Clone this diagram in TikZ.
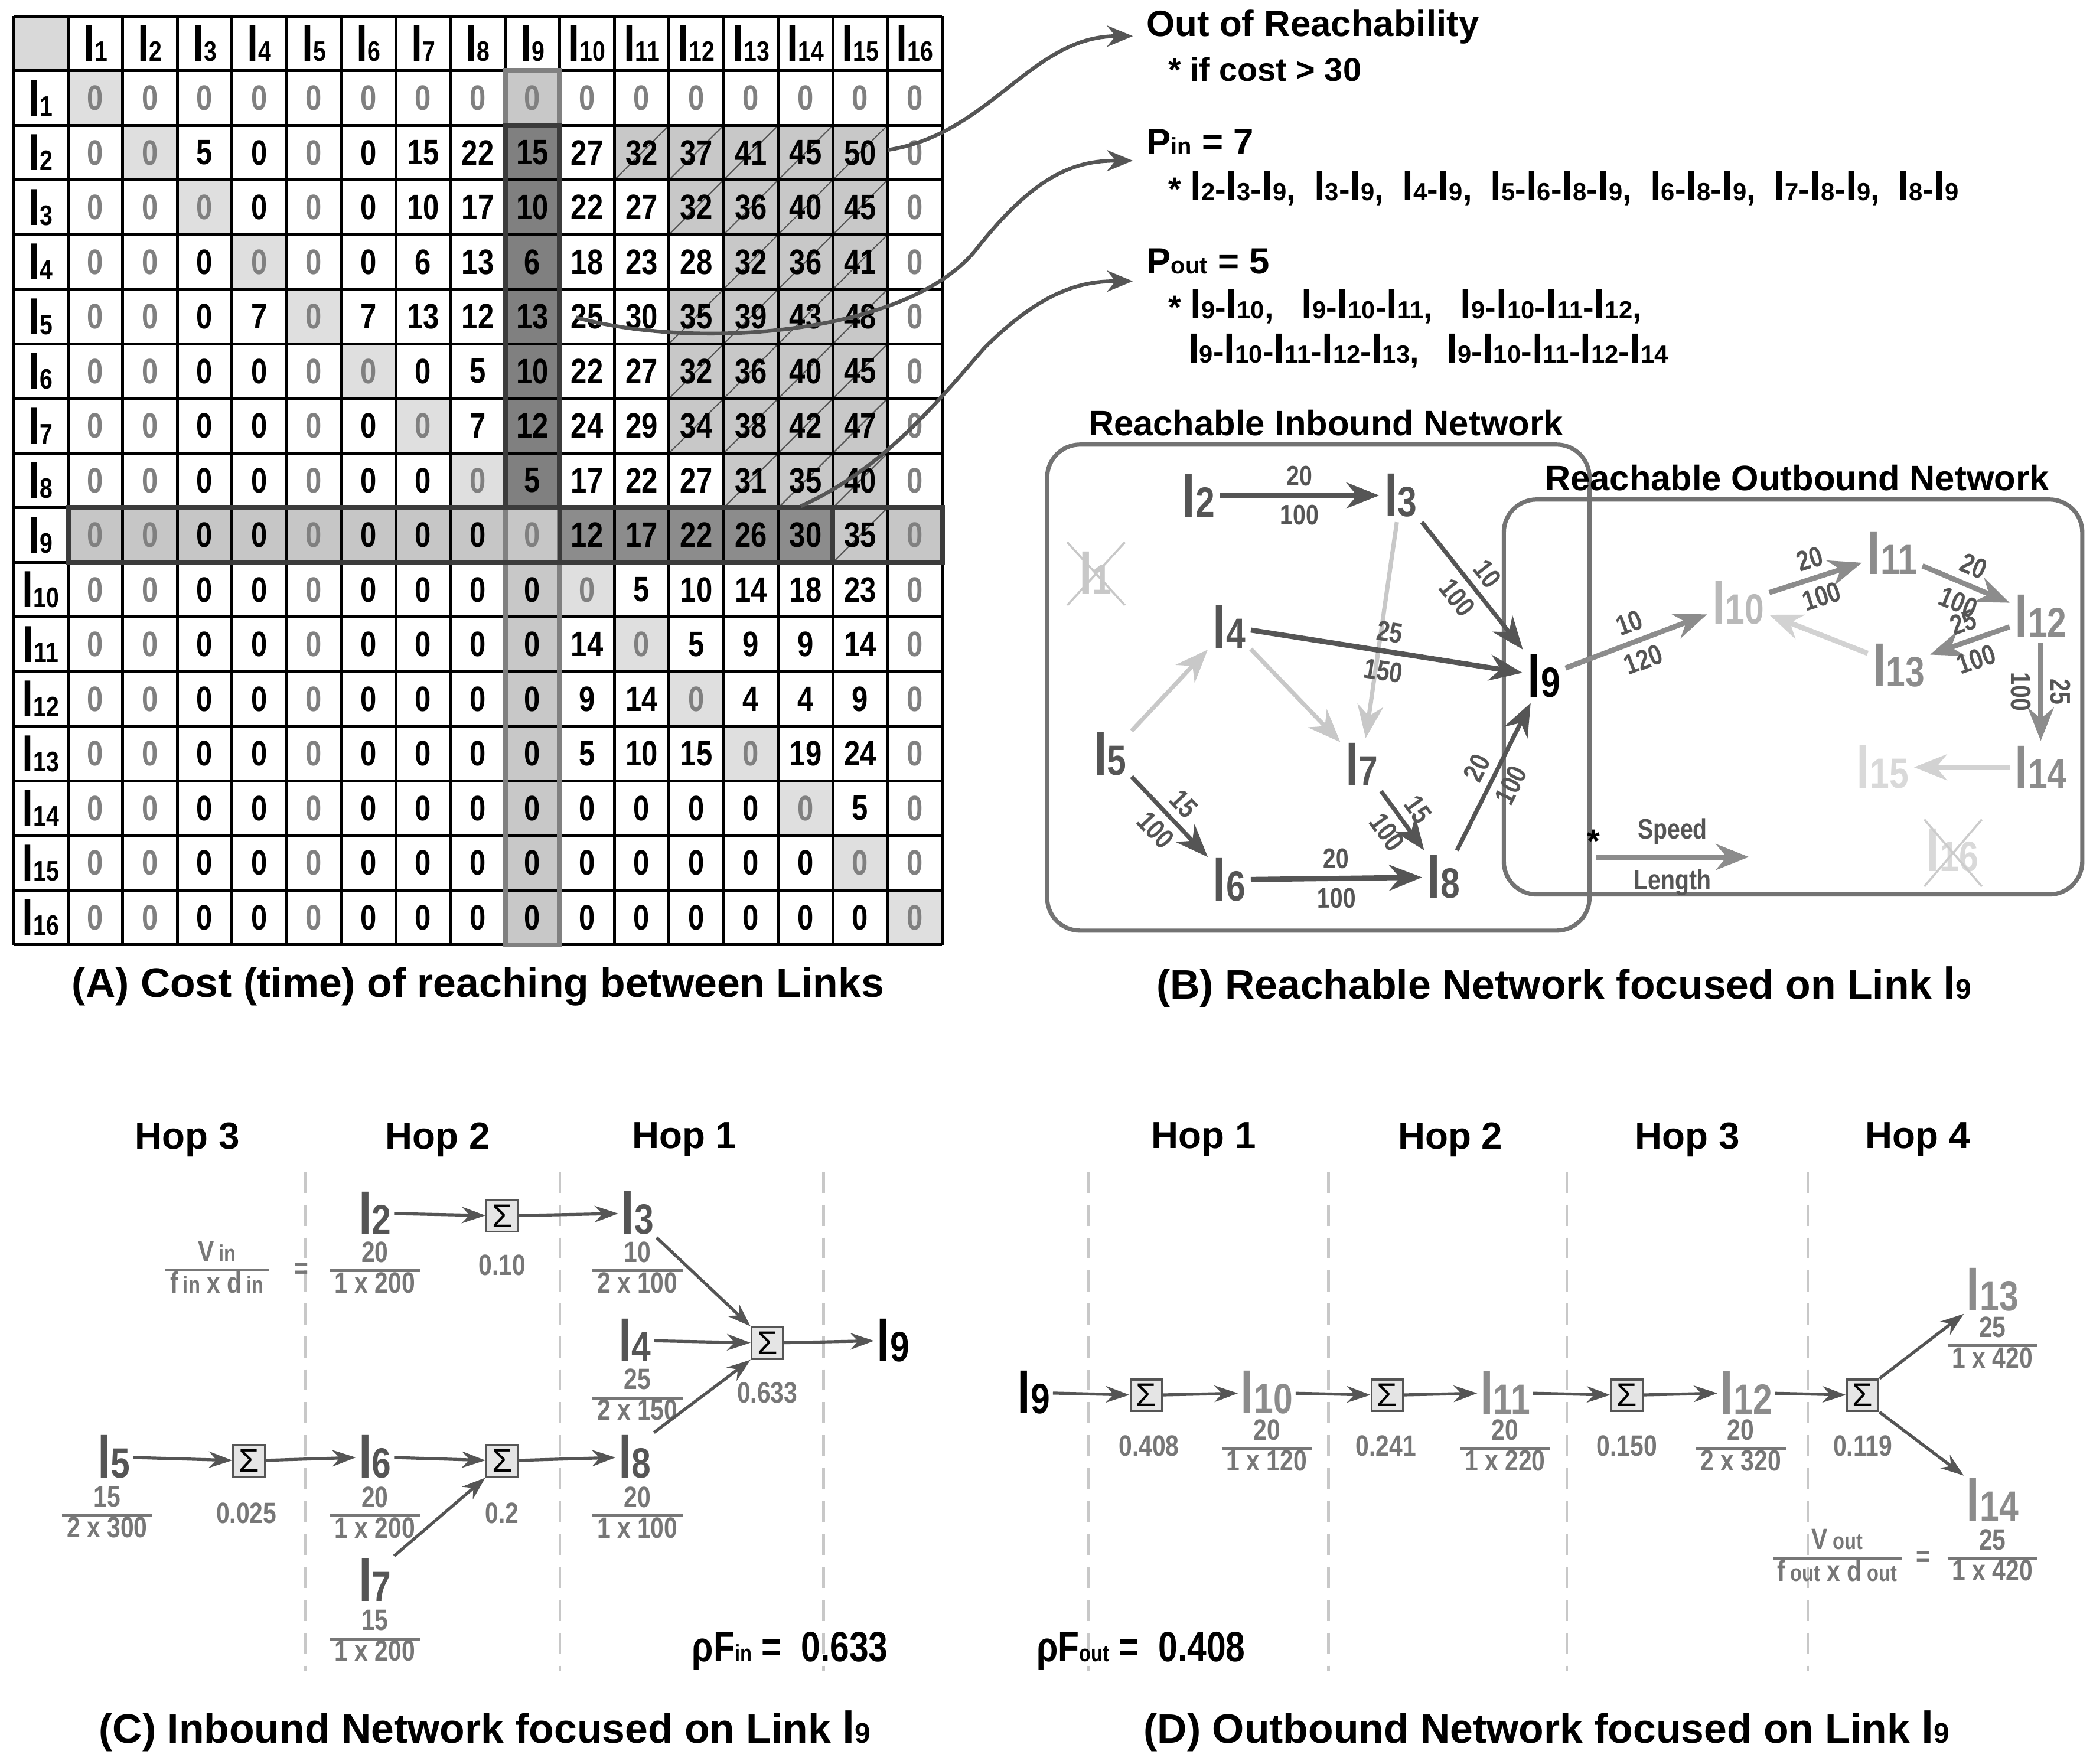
\documentclass[tikz,border=0pt]{standalone}
\usepackage{fontspec}
\setmainfont{Liberation Sans}
\newfontfamily\nar{Liberation Sans}[FakeStretch=0.82]
\usetikzlibrary{arrows.meta}
\definecolor{dk}{HTML}{555555}
\definecolor{md}{HTML}{8C8C8C}
\definecolor{lt}{HTML}{C8C8C8}
\definecolor{gy}{HTML}{808080}
\definecolor{fr}{HTML}{777777}
\newcommand\lnk[3]{{\fontsize{#2}{#2}\selectfont l}{\fontsize{#3}{#3}\selectfont #1}}
\newcommand\sm[1]{{\fontsize{10}{10}\selectfont #1}}
\newcommand\frc[2]{{\renewcommand\arraystretch{0.8}\setlength\arrayrulewidth{1.3pt}\begin{tabular}{@{\,}c@{\,}}#1\\\hline #2\end{tabular}}}
\tikzset{
 mtx/.style={font=\nar\bfseries\fontsize{15}{15}\selectfont,inner sep=0pt},
 hdr/.style={font=\nar\bfseries,inner sep=0pt},
 big/.style={font=\nar\bfseries,inner sep=2pt},
 ttl/.style={font=\bfseries\fontsize{17.5}{17.5}\selectfont},
 txt/.style={font=\bfseries\fontsize{14}{14}\selectfont,anchor=west,inner sep=0pt},
 ed/.style={line width=2.2pt,-{Stealth[length=14pt,width=11pt]}},
 lb/.style={font=\nar\bfseries\fontsize{12}{12}\selectfont,text=dk,sloped,inner sep=3pt},
 box/.style={draw=gy!90!black,line width=1.8pt,rounded corners=14pt},
 cur/.style={draw=dk,line width=1.6pt,-{Stealth[length=11pt,width=9pt]}},
 ar/.style={draw=dk,line width=1.3pt,-{Stealth[length=10pt,width=7pt]}},
 sg/.style={draw=dk,fill=gray!20,line width=0.9pt,minimum size=0.47cm,inner sep=0pt,font=\fontsize{14}{14}\selectfont},
 fn/.style={font=\nar\bfseries\fontsize{12.5}{12.5}\selectfont,text=fr,inner sep=0pt},
 hop/.style={font=\bfseries\fontsize{16}{16}\selectfont},
 dsh/.style={draw=lt,line width=1.1pt,dash pattern=on 9pt off 5pt},
 lst/.style={txt,font=\bfseries\fontsize{14}{14}\selectfont},
}
\newcommand\li[1]{\lnk{#1}{17}{10.5}}
\begin{document}
\begin{tikzpicture}[x=0.02cm,y=-0.02cm]
\useasboundingbox (0,0) rectangle (1563,1317);
\fill[white] (0,0) rectangle (1563,1317);
% ---------- matrix fills
\def\cs{40.8}
\fill[gray!30] (10,12) rectangle ++(\cs,\cs);
\foreach \k in {1,...,16}{\fill[gray!25] ({10+\k*\cs},{12+\k*\cs}) rectangle ++(\cs,\cs);}
\foreach \r in {1,10,11,12,13,14,15,16}{\fill[lt] ({10+9*\cs},{12+\r*\cs}) rectangle ++(\cs,\cs);}
\foreach \r in {2,...,8}{\fill[gy] ({10+9*\cs},{12+\r*\cs}) rectangle ++(\cs,\cs);}
\foreach \c in {1,...,9,16}{\fill[gray!45] ({10+\c*\cs},{12+9*\cs}) rectangle ++(\cs,\cs);}
\foreach \c in {10,...,14}{\fill[gray!100!black!90] ({10+\c*\cs},{12+9*\cs}) rectangle ++(\cs,\cs);}
\foreach \r/\c in {2/11,2/12,2/13,2/14,2/15,3/12,3/13,3/14,3/15,4/13,4/14,4/15,5/12,5/13,5/14,5/15,6/12,6/13,6/14,6/15,7/12,7/13,7/14,7/15,8/13,8/14,8/15,9/15}{
  \fill[lt] ({10+\c*\cs},{12+\r*\cs}) rectangle ++(\cs,\cs);
  \draw[dk,line width=0.5pt] ({10+\c*\cs},{12+(\r+1)*\cs}) -- ++(\cs,-\cs);}
% grid
\foreach \k in {0,...,17}{
  \draw[line width=1.3pt] ({10+\k*\cs},12) -- ({10+\k*\cs},{12+17*\cs});
  \draw[line width=1.3pt] (10,{12+\k*\cs}) -- ({10+17*\cs},{12+\k*\cs});}
\draw[gy,line width=2.2pt] ({10+9*\cs},{12+\cs}) rectangle ({10+10*\cs},{12+17*\cs});
\draw[dk!70!black,line width=2.2pt] ({10+9*\cs},{12+2*\cs}) rectangle ({10+10*\cs},{12+9*\cs});
\draw[dk!70!black,line width=2.2pt] ({10+\cs},{12+9*\cs}) rectangle ({10+17*\cs},{12+10*\cs});
\draw[dk!70!black,line width=2pt] ({10+10*\cs},{12+9*\cs}) rectangle ({10+15*\cs},{12+10*\cs});
% headers
\foreach \k in {1,...,16}{
  \node[hdr] (hc\k) at ({10+(\k+0.5)*\cs},{12+0.5*\cs}) {\lnk{\k}{21}{12}};
  \node[hdr] (hr\k) at ({10+0.5*\cs},{12+(\k+0.5)*\cs}) {\lnk{\k}{21}{12}};}
% values
\foreach \r/\vals in {
 1/{0,0,0,0,0,0,0,0,0,0,0,0,0,0,0,0},
 2/{0,0,5,0,0,0,15,22,15,27,32,37,41,45,50,0},
 3/{0,0,0,0,0,0,10,17,10,22,27,32,36,40,45,0},
 4/{0,0,0,0,0,0,6,13,6,18,23,28,32,36,41,0},
 5/{0,0,0,7,0,7,13,12,13,25,30,35,39,43,48,0},
 6/{0,0,0,0,0,0,0,5,10,22,27,32,36,40,45,0},
 7/{0,0,0,0,0,0,0,7,12,24,29,34,38,42,47,0},
 8/{0,0,0,0,0,0,0,0,5,17,22,27,31,35,40,0},
 9/{0,0,0,0,0,0,0,0,0,12,17,22,26,30,35,0},
 10/{0,0,0,0,0,0,0,0,0,0,5,10,14,18,23,0},
 11/{0,0,0,0,0,0,0,0,0,14,0,5,9,9,14,0},
 12/{0,0,0,0,0,0,0,0,0,9,14,0,4,4,9,0},
 13/{0,0,0,0,0,0,0,0,0,5,10,15,0,19,24,0},
 14/{0,0,0,0,0,0,0,0,0,0,0,0,0,0,5,0},
 15/{0,0,0,0,0,0,0,0,0,0,0,0,0,0,0,0},
 16/{0,0,0,0,0,0,0,0,0,0,0,0,0,0,0,0}}{
 \foreach \v [count=\c] in \vals {
   \pgfmathtruncatemacro\g{(\r==1)||(\c==1)||(\c==2)||(\c==5)||(\c==16)||(\r==\c)}
   \ifnum\g=1 \def\tc{gy}\else\def\tc{black}\fi
   \node[mtx,text=\tc] (m-\r-\c) at ({10+(\c+0.5)*\cs},{12+(\r+0.5)*\cs}) {\v};
 }}
% curved arrows
\coordinate (a1s) at (663,112); \coordinate (a1e) at (846,27);
\coordinate (a2s) at (430,237); \coordinate (a2e) at (846,120);
\coordinate (a3s) at (598,378); \coordinate (a3e) at (846,210);
\draw[cur] (a1s) .. controls (740,100) and (770,27) .. (a1e);
\draw[cur] (a2s) .. controls (520,262) and (680,250) .. (730,185) .. controls (775,128) and (805,120) .. (a2e);
\draw[cur] (a3s) .. controls (660,350) and (700,300) .. (735,260) .. controls (780,215) and (810,210) .. (a3e);
% right texts
\node[txt] (t1) at (856,20) {\fontsize{15.5}{15.5}\selectfont Out of Reachability};
\node[txt] (t2) at (872,52) {* if cost > 30};
\node[txt] (t3) at (856,106) {\fontsize{15.5}{15.5}\selectfont P\sm{in} = 7};
\node[lst] (t4) at (872,141) {*\ \li{2}-\li{3}-\li{9},\ \ \li{3}-\li{9},\ \ \li{4}-\li{9},\ \ \li{5}-\li{6}-\li{8}-\li{9},\ \ \li{6}-\li{8}-\li{9},\ \ \li{7}-\li{8}-\li{9},\ \ \li{8}-\li{9}};
\node[txt] (t5) at (856,195) {\fontsize{15.5}{15.5}\selectfont P\sm{out} = 5};
\node[lst] (t6) at (872,229) {*\ \li{9}-\li{10},\ \ \ \li{9}-\li{10}-\li{11},\ \ \ \li{9}-\li{10}-\li{11}-\li{12},};
\node[lst] (t7) at (887,262) {\li{9}-\li{10}-\li{11}-\li{12}-\li{13},\ \ \ \li{9}-\li{10}-\li{11}-\li{12}-\li{14}};
% titles
\node[ttl] (TA) at (357,737) {(A) Cost (time) of reaching between Links};
\node[ttl] (TB) at (1168,737) {(B) Reachable Network focused on Link \lnk{9}{19}{12}};
\node[ttl] (TC) at (362,1293) {(C) Inbound Network focused on Link \lnk{9}{19}{12}};
\node[ttl] (TD) at (1155,1293) {(D) Outbound Network focused on Link \lnk{9}{19}{12}};
% ---------- panel B
\draw[box] (782,332) rectangle (1187,695);
\draw[box] (1123,373) rectangle (1555,668);
\node[ttl,font=\bfseries\fontsize{15}{15}\selectfont] (TBi) at (990,316) {Reachable Inbound Network};
\node[ttl,font=\bfseries\fontsize{15}{15}\selectfont] (TBo) at (1342,357) {Reachable Outbound Network};
\tikzset{bn/.style={big,font=\nar\bfseries}}
\node[bn,text=dk] (b2) at (895,370) {\lnk{2}{25}{18}};
\node[bn,text=dk] (b3) at (1046,370) {\lnk{3}{25}{18}};
\node[bn,text=lt] (b1) at (818,428) {\lnk{1}{25}{18}};
\draw[lt,line width=0.9pt] (797,405) -- (840,452) (797,452) -- (840,405);
\node[bn,text=dk] (b4) at (918,468) {\lnk{4}{25}{18}};
\node[bn,text=black] (b9) at (1153,505) {\lnk{9}{25}{18}};
\node[bn,text=dk] (b5) at (829,563) {\lnk{5}{25}{18}};
\node[bn,text=dk] (b7) at (1017,571) {\lnk{7}{25}{18}};
\node[bn,text=dk] (b6) at (918,657) {\lnk{6}{25}{18}};
\node[bn,text=dk] (b8) at (1078,655) {\lnk{8}{25}{18}};
\node[bn,text=gray!55] (b10) at (1298,450) {\lnk{10}{25}{18}};
\node[bn,text=md] (b11) at (1413,413) {\lnk{11}{25}{18}};
\node[bn,text=md] (b12) at (1524,460) {\lnk{12}{25}{18}};
\node[bn,text=md] (b13) at (1418,497) {\lnk{13}{25}{18}};
\node[bn,text=md] (b14) at (1524,573) {\lnk{14}{25}{18}};
\node[bn,text=gray!30] (b15) at (1406,573) {\lnk{15}{25}{18}};
\node[bn,text=gray!30] (b16) at (1458,635) {\lnk{16}{25}{18}};
\draw[gray!40,line width=0.9pt] (1437,612) -- (1480,662) (1437,662) -- (1480,612);
\draw[ed,lt,line width=1.8pt] (b3) -- (b7);
\draw[ed,lt,line width=1.8pt] (b4) -- (b7);
\draw[ed,lt,line width=1.8pt] (b5) -- (b4);
\draw[ed,dk] (b2) -- node[lb,above]{20} node[lb,below]{100} (b3);
\draw[ed,dk,line width=1.8pt] (b3) -- node[lb,above]{10} node[lb,below]{100} (b9);
\draw[ed,dk] (b4) -- node[lb,above]{25} node[lb,below]{150} (b9);
\draw[ed,dk,line width=1.8pt] (b5) -- node[lb,above]{15} node[lb,below]{100} (b6);
\draw[ed,dk,line width=1.8pt] (b7) -- node[lb,above]{15} node[lb,below]{100} (b8);
\draw[ed,dk] (b6) -- node[lb,above]{20} node[lb,below]{100} (b8);
\draw[ed,dk,line width=1.8pt] (b8) -- node[lb,above]{20} node[lb,below]{100} (b9);
\draw[ed,md] (b9) -- node[lb,above]{10} node[lb,below]{120} (b10);
\draw[ed,md] (b10) -- node[lb,above]{20} node[lb,below]{100} (b11);
\draw[ed,md] (b11) -- node[lb,above]{20} node[lb,below]{100} (b12);
\draw[ed,md] (b12) -- node[lb,above]{25} node[lb,below]{100} (b13);
\draw[ed,md] (b12) -- node[lb,above]{25} node[lb,below]{100} (b14);
\draw[ed,gray!35] (b13) -- (b10);
\draw[ed,gray!35] (b14) -- (b15);
\coordinate (lg1) at (1192,640); \coordinate (lg2) at (1306,640);
\draw[ed,md] (lg1) -- node[lb,above=1pt]{Speed} node[lb,below=1pt]{Length} (lg2);
\node[font=\bfseries\fontsize{14}{14}\selectfont] (st) at (1190,628) {*};
% ---------- panel C
\foreach \x [count=\i] in {228,418,615}{\draw[dsh] (\x,875) coordinate (cv\i) -- (\x,1248);}
\node[hop] (h3) at (140,851) {Hop 3};
\node[hop] (h2) at (327,851) {Hop 2};
\node[hop] (h1) at (511,851) {Hop 1};
\tikzset{cn/.style={big,text=dk,inner sep=1pt}}
\node[cn] (c2) at (280,906) {\lnk{2}{25}{18}};
\node[sg] (s1) at (375,908) {Σ};
\node[cn] (c3) at (476,906) {\lnk{3}{25}{18}};
\node[cn] (c4) at (474,1001) {\lnk{4}{25}{18}};
\node[sg] (sm) at (573,1003) {Σ};
\node[cn,text=black] (c9) at (667,1001) {\lnk{9}{25}{18}};
\node[cn] (c5) at (85,1088) {\lnk{5}{25}{18}};
\node[sg] (s2) at (186,1091) {Σ};
\node[cn] (c6) at (280,1088) {\lnk{6}{25}{18}};
\node[sg] (s3) at (375,1091) {Σ};
\node[cn] (c8) at (474,1088) {\lnk{8}{25}{18}};
\node[cn] (c7) at (280,1180) {\lnk{7}{25}{18}};
\node[fn] (f2) at (280,949) {\frc{20}{1 x 200}};
\node[fn] (f3) at (476,949) {\frc{10}{2 x 100}};
\node[fn] (f4) at (476,1044) {\frc{25}{2 x 150}};
\node[fn] (f5) at (80,1132) {\frc{15}{2 x 300}};
\node[fn] (f6) at (280,1132) {\frc{20}{1 x 200}};
\node[fn] (f8) at (476,1132) {\frc{20}{1 x 100}};
\node[fn] (f7) at (280,1224) {\frc{15}{1 x 200}};
\node[fn] (fv) at (162,949) {\frc{V\,\sm{in}}{f\,\sm{in} x d\,\sm{in}}};
\node[fn] (eq1) at (225,949) {=};
\node[fn] (v1) at (375,945) {0.10};
\node[fn] (v2) at (573,1040) {0.633};
\node[fn] (v3) at (184,1130) {0.025};
\node[fn] (v4) at (375,1130) {0.2};
\draw[ar] (c2) -- (s1); \draw[ar] (s1) -- (c3);
\draw[ar] (c3.south east) -- (sm.north west);
\draw[ar] (c4) -- (sm);
\draw[ar] (c8.north east) -- (sm.south west);
\draw[ar] (sm) -- (c9);
\draw[ar] (c5) -- (s2); \draw[ar] (s2) -- (c6); \draw[ar] (c6) -- (s3);
\draw[ar] (c7.north east) -- (s3.south west); \draw[ar] (s3) -- (c8);
\node[hop,font=\nar\bfseries\fontsize{18}{18}\selectfont] (rin) at (590,1233) {ρF\sm{in} =\ \ 0.633};
% ---------- panel D
\foreach \x [count=\i] in {813,992,1170,1350}{\draw[dsh] (\x,875) coordinate (dv\i) -- (\x,1248);}
\node[hop] (k1) at (899,851) {Hop 1};
\node[hop] (k2) at (1083,851) {Hop 2};
\node[hop] (k3) at (1260,851) {Hop 3};
\node[hop] (k4) at (1432,851) {Hop 4};
\node[cn,text=black] (d9) at (772,1040) {\lnk{9}{25}{18}};
\node[sg] (t1s) at (856,1042) {Σ};
\node[cn,text=md] (d10) at (946,1040) {\lnk{10}{25}{18}};
\node[sg] (t2s) at (1036,1042) {Σ};
\node[cn,text=md] (d11) at (1124,1040) {\lnk{11}{25}{18}};
\node[sg] (t3s) at (1215,1042) {Σ};
\node[cn,text=md] (d12) at (1304,1040) {\lnk{12}{25}{18}};
\node[sg] (t4s) at (1391,1042) {Σ};
\node[cn,text=md] (d13) at (1488,963) {\lnk{13}{25}{18}};
\node[cn,text=md] (d14) at (1488,1120) {\lnk{14}{25}{18}};
\node[fn] (w1) at (858,1080) {0.408};
\node[fn] (w2) at (1035,1080) {0.241};
\node[fn] (w3) at (1215,1080) {0.150};
\node[fn] (w4) at (1391,1080) {0.119};
\node[fn] (g10) at (946,1082) {\frc{20}{1 x 120}};
\node[fn] (g11) at (1124,1082) {\frc{20}{1 x 220}};
\node[fn] (g12) at (1300,1082) {\frc{20}{2 x 320}};
\node[fn] (g13) at (1488,1005) {\frc{25}{1 x 420}};
\node[fn] (g14) at (1488,1164) {\frc{25}{1 x 420}};
\node[fn] (gv) at (1372,1164) {\frc{V\,\sm{out}}{f\,\sm{out} x d\,\sm{out}}};
\node[fn] (eq2) at (1436,1164) {=};
\draw[ar] (d9) -- (t1s); \draw[ar] (t1s) -- (d10); \draw[ar] (d10) -- (t2s);
\draw[ar] (t2s) -- (d11); \draw[ar] (d11) -- (t3s); \draw[ar] (t3s) -- (d12);
\draw[ar] (d12) -- (t4s);
\draw[ar] (t4s.north east) -- (d13.south west);
\draw[ar] (t4s.south east) -- (d14.north west);
\node[hop,font=\nar\bfseries\fontsize{18}{18}\selectfont] (rout) at (852,1233) {ρF\sm{out} =\ \ 0.408};
\end{tikzpicture}
\end{document}
